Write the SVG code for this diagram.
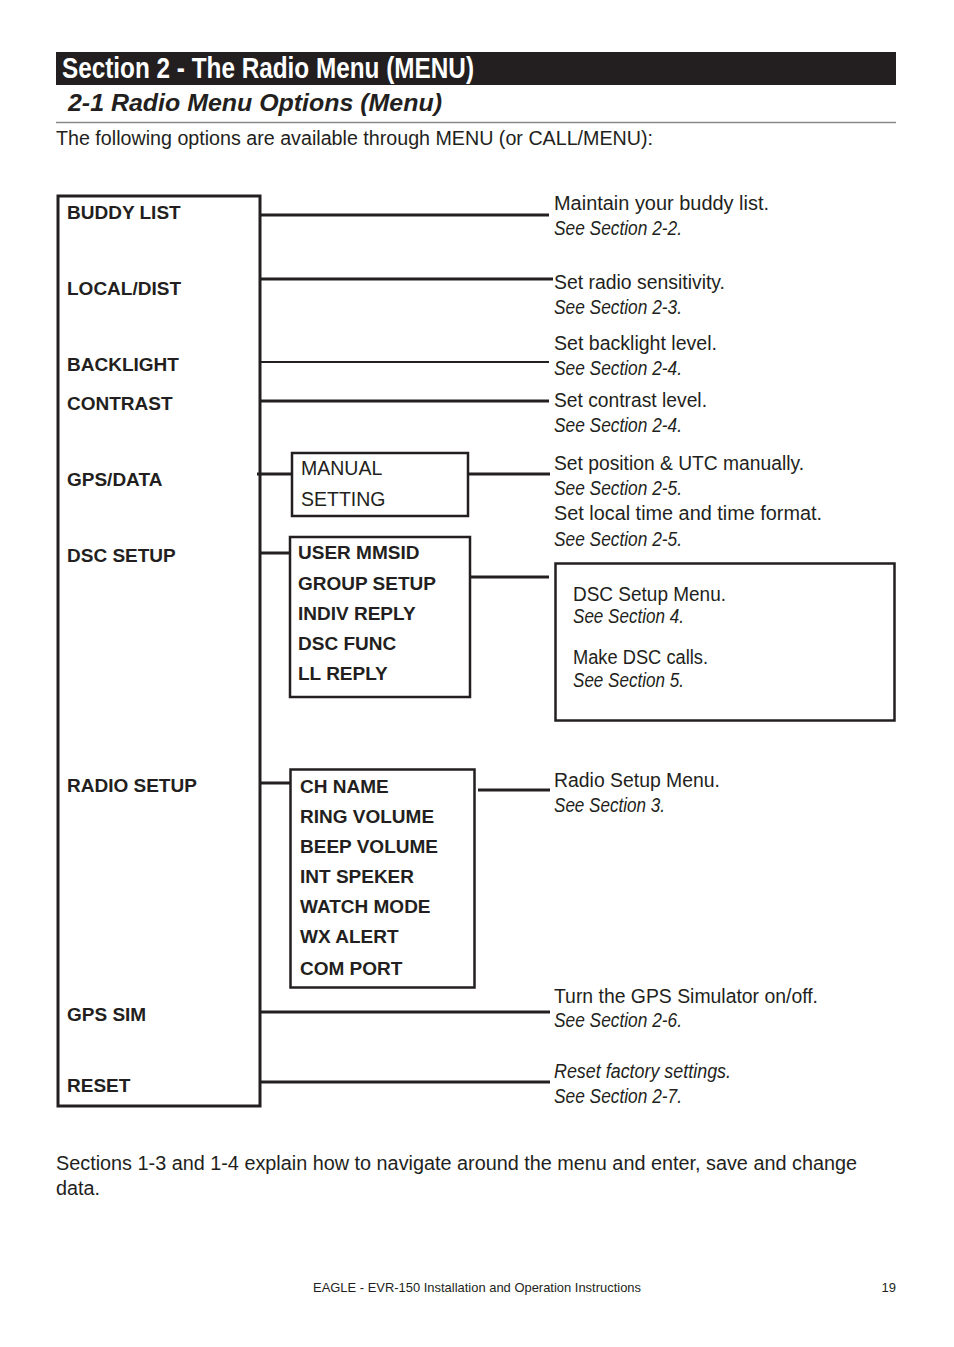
<svg xmlns="http://www.w3.org/2000/svg" width="954" height="1347" viewBox="0 0 954 1347">
<style>
text{font-family:"Liberation Sans",Arial,sans-serif;fill:#231f20}
.t{font-size:19.5px}
.i{font-size:19.5px;font-style:italic}
.b{font-size:19px;font-weight:bold}
.box{fill:none;stroke:#231f20}
.ln{stroke:#231f20;fill:none}
</style>
<rect width="954" height="1347" fill="#fff"/>
<g id="header">
<rect x="56" y="52" width="840" height="33" fill="#231f20"/>
<text x="62" y="78" style="font-size:30px;font-weight:bold;fill:#fff" textLength="412" lengthAdjust="spacingAndGlyphs">Section 2 - The Radio Menu (MENU)</text>
<text x="68" y="111" style="font-size:24px;font-weight:bold;font-style:italic" textLength="374" lengthAdjust="spacingAndGlyphs">2-1 Radio Menu Options (Menu)</text>
<line x1="56" y1="122.5" x2="896" y2="122.5" stroke="#8a8a8a" stroke-width="1.5"/>
<text class="t" x="56" y="145" textLength="597" lengthAdjust="spacingAndGlyphs">The following options are available through MENU (or CALL/MENU):</text>
</g>
<g id="menu">
<rect class="box" x="58" y="196" width="202" height="910" stroke-width="3"/>
<text class="b" x="67" y="219">BUDDY LIST</text>
<text class="b" x="67" y="295">LOCAL/DIST</text>
<text class="b" x="67" y="371">BACKLIGHT</text>
<text class="b" x="67" y="410">CONTRAST</text>
<text class="b" x="67" y="486">GPS/DATA</text>
<text class="b" x="67" y="562">DSC SETUP</text>
<text class="b" x="67" y="792">RADIO SETUP</text>
<text class="b" x="67" y="1021">GPS SIM</text>
<text class="b" x="67" y="1092">RESET</text>
</g>
<g id="manual">
<rect class="box" x="292" y="453" width="176" height="63" stroke-width="2.5"/>
<text class="t" x="301" y="475">MANUAL</text>
<text class="t" x="301" y="506">SETTING</text>
</g>
<g id="dscmenu">
<rect class="box" x="290" y="537" width="180" height="160" stroke-width="2.5"/>
<text class="b" x="298" y="559">USER MMSID</text>
<text class="b" x="298" y="590">GROUP SETUP</text>
<text class="b" x="298" y="620">INDIV REPLY</text>
<text class="b" x="298" y="650">DSC FUNC</text>
<text class="b" x="298" y="680">LL REPLY</text>
</g>
<g id="dscdesc">
<rect class="box" x="555.5" y="563.5" width="339" height="157" stroke-width="2.5"/>
<text class="t" x="573" y="601" textLength="153" lengthAdjust="spacingAndGlyphs">DSC Setup Menu.</text>
<text class="i" x="573" y="623" textLength="111" lengthAdjust="spacingAndGlyphs">See Section 4.</text>
<text class="t" x="573" y="664" textLength="135" lengthAdjust="spacingAndGlyphs">Make DSC calls.</text>
<text class="i" x="573" y="687" textLength="111" lengthAdjust="spacingAndGlyphs">See Section 5.</text>
</g>
<g id="radiomenu">
<rect class="box" x="290.5" y="769.5" width="184" height="218" stroke-width="2.5"/>
<text class="b" x="300" y="793">CH NAME</text>
<text class="b" x="300" y="823">RING VOLUME</text>
<text class="b" x="300" y="853">BEEP VOLUME</text>
<text class="b" x="300" y="883">INT SPEKER</text>
<text class="b" x="300" y="913">WATCH MODE</text>
<text class="b" x="300" y="943">WX ALERT</text>
<text class="b" x="300" y="975">COM PORT</text>
</g>
<g id="descriptions">
<text class="t" x="554" y="210" textLength="215" lengthAdjust="spacingAndGlyphs">Maintain your buddy list.</text>
<text class="i" x="554" y="235" textLength="128" lengthAdjust="spacingAndGlyphs">See Section 2-2.</text>
<text class="t" x="554" y="289" textLength="171" lengthAdjust="spacingAndGlyphs">Set radio sensitivity.</text>
<text class="i" x="554" y="314" textLength="128" lengthAdjust="spacingAndGlyphs">See Section 2-3.</text>
<text class="t" x="554" y="350" textLength="163" lengthAdjust="spacingAndGlyphs">Set backlight level.</text>
<text class="i" x="554" y="375" textLength="128" lengthAdjust="spacingAndGlyphs">See Section 2-4.</text>
<text class="t" x="554" y="407" textLength="153" lengthAdjust="spacingAndGlyphs">Set contrast level.</text>
<text class="i" x="554" y="432" textLength="128" lengthAdjust="spacingAndGlyphs">See Section 2-4.</text>
<text class="t" x="554" y="470" textLength="250" lengthAdjust="spacingAndGlyphs">Set position &amp; UTC manually.</text>
<text class="i" x="554" y="495" textLength="128" lengthAdjust="spacingAndGlyphs">See Section 2-5.</text>
<text class="t" x="554" y="520" textLength="268" lengthAdjust="spacingAndGlyphs">Set local time and time format.</text>
<text class="i" x="554" y="546" textLength="128" lengthAdjust="spacingAndGlyphs">See Section 2-5.</text>
<text class="t" x="554" y="787" textLength="166" lengthAdjust="spacingAndGlyphs">Radio Setup Menu.</text>
<text class="i" x="554" y="812" textLength="111" lengthAdjust="spacingAndGlyphs">See Section 3.</text>
<text class="t" x="554" y="1003" textLength="264" lengthAdjust="spacingAndGlyphs">Turn the GPS Simulator on/off.</text>
<text class="i" x="554" y="1027" textLength="128" lengthAdjust="spacingAndGlyphs">See Section 2-6.</text>
<text class="i" x="554" y="1078" textLength="177" lengthAdjust="spacingAndGlyphs">Reset factory settings.</text>
<text class="i" x="554" y="1103" textLength="128" lengthAdjust="spacingAndGlyphs">See Section 2-7.</text>
</g>
<g id="connectors">
<line class="ln" x1="260" y1="215" x2="549" y2="215" stroke-width="3"/>
<line class="ln" x1="260" y1="279" x2="553" y2="279" stroke-width="3"/>
<line class="ln" x1="260" y1="362" x2="549" y2="362" stroke-width="2"/>
<line class="ln" x1="260" y1="401" x2="549" y2="401" stroke-width="3"/>
<line class="ln" x1="257" y1="474" x2="292" y2="474" stroke-width="3"/>
<line class="ln" x1="468" y1="474" x2="550" y2="474" stroke-width="3"/>
<line class="ln" x1="260" y1="553" x2="290" y2="553" stroke-width="3"/>
<line class="ln" x1="470" y1="577" x2="549" y2="577" stroke-width="3"/>
<line class="ln" x1="260" y1="783" x2="290" y2="783" stroke-width="3"/>
<line class="ln" x1="478" y1="790" x2="550" y2="790" stroke-width="3"/>
<line class="ln" x1="260" y1="1012" x2="550" y2="1012" stroke-width="3"/>
<line class="ln" x1="260" y1="1082" x2="550" y2="1082" stroke-width="3"/>
</g>
<g id="footer">
<text class="t" x="56" y="1170" textLength="801" lengthAdjust="spacingAndGlyphs">Sections 1-3 and 1-4 explain how to navigate around the menu and enter, save and change</text>
<text class="t" x="56" y="1195" textLength="44" lengthAdjust="spacingAndGlyphs">data.</text>
<text x="313" y="1292" style="font-size:13px" textLength="328" lengthAdjust="spacingAndGlyphs">EAGLE - EVR-150 Installation and Operation Instructions</text>
<text x="896" y="1292" style="font-size:13px" text-anchor="end">19</text>
</g>
</svg>
